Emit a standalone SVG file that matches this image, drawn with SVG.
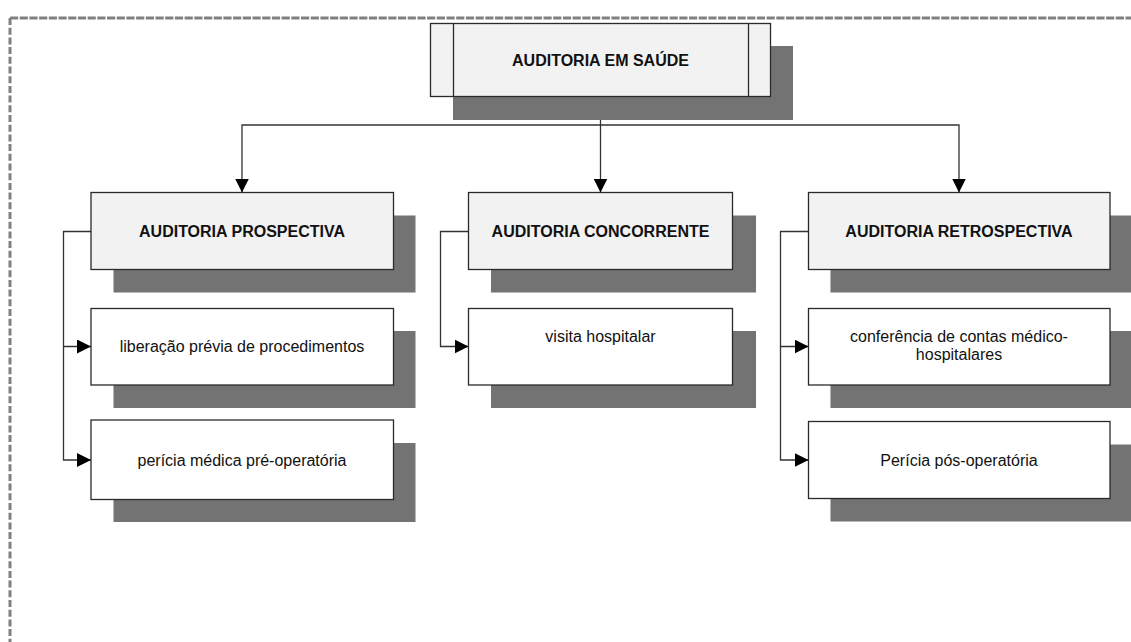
<svg xmlns="http://www.w3.org/2000/svg" width="1131" height="642" viewBox="0 0 1131 642">
<style>
.shadow{fill:#737373;stroke:none}
.box{stroke:#2a2a2a;stroke-width:1.3}
.l2{fill:#f2f2f2}
.l3{fill:#ffffff}
.t{font-family:"Liberation Sans",Arial,sans-serif;font-size:16px;fill:#111;text-anchor:middle}
.b{font-weight:bold}
.conn{fill:none;stroke:#333;stroke-width:1.3}
.frame{stroke:#808080;stroke-width:3;fill:none}
</style>
<defs>
<marker id="arr" markerWidth="14" markerHeight="14" refX="14" refY="7" orient="auto" markerUnits="userSpaceOnUse">
<path d="M0,0 L14,7 L0,14 Z" fill="#000"/>
</marker>
</defs>
<rect width="1131" height="642" fill="#fff"/>
<g id="frame">
<line class="frame" x1="10" y1="18" x2="1131" y2="18" stroke-dasharray="8.2,1.5"/>
<line class="frame" x1="10" y1="18" x2="10" y2="642" stroke-dasharray="7,2.7"/>
</g>
<g id="connectors">
<path class="conn" d="M600.5,96.5 V192.5" marker-end="url(#arr)"/>
<path class="conn" d="M600.5,125 H242 V192.5" marker-end="url(#arr)"/>
<path class="conn" d="M600.5,125 H959 V192.5" marker-end="url(#arr)"/>
<path class="conn" d="M91,231.5 H63.5 V346.5 H91" marker-end="url(#arr)"/>
<path class="conn" d="M63.5,346.5 V460 H91" marker-end="url(#arr)"/>
<path class="conn" d="M468.5,231.5 H440.5 V346.5 H468.5" marker-end="url(#arr)"/>
<path class="conn" d="M808.5,231.5 H780.5 V346.5 H808.5" marker-end="url(#arr)"/>
<path class="conn" d="M780.5,346.5 V460 H808.5" marker-end="url(#arr)"/>
</g>
<g id="n-auditoria-saude">
<rect class="shadow" x="453" y="46" width="340" height="74"/>
<rect class="box l2" x="430.5" y="23.5" width="340" height="73"/>
<line class="box" x1="453.5" y1="23.5" x2="453.5" y2="96.5"/>
<line class="box" x1="748.5" y1="23.5" x2="748.5" y2="96.5"/>
<text class="t b" x="600.5" y="65.5">AUDITORIA EM SAÚDE</text>
</g>
<g id="n-prospectiva">
<rect class="shadow" x="113.5" y="215.5" width="302" height="77"/>
<rect class="box l2" x="91" y="192.5" width="302.5" height="77"/>
<text class="t b" x="242" y="236.5">AUDITORIA PROSPECTIVA</text>
</g>
<g id="n-concorrente">
<rect class="shadow" x="491" y="215.5" width="265" height="77"/>
<rect class="box l2" x="468.5" y="192.5" width="264" height="77"/>
<text class="t b" x="600.5" y="236.5">AUDITORIA CONCORRENTE</text>
</g>
<g id="n-retrospectiva">
<rect class="shadow" x="830.5" y="215.5" width="302" height="77"/>
<rect class="box l2" x="808.5" y="192.5" width="301.5" height="77"/>
<text class="t b" x="959" y="236.5">AUDITORIA RETROSPECTIVA</text>
</g>
<g id="n-liberacao">
<rect class="shadow" x="113.5" y="331" width="302" height="77"/>
<rect class="box l3" x="91" y="308.5" width="302.5" height="76.5"/>
<text class="t" x="242" y="352">liberação prévia de procedimentos</text>
</g>
<g id="n-pericia-medica">
<rect class="shadow" x="113.5" y="443" width="302" height="79"/>
<rect class="box l3" x="91" y="420" width="302.5" height="79.5"/>
<text class="t" x="242" y="465.5">perícia médica pré-operatória</text>
</g>
<g id="n-visita">
<rect class="shadow" x="491" y="331" width="265" height="77"/>
<rect class="box l3" x="468.5" y="308.5" width="264" height="76.5"/>
<text class="t" x="600.5" y="342">visita hospitalar</text>
</g>
<g id="n-conferencia">
<rect class="shadow" x="830.5" y="331" width="302" height="77"/>
<rect class="box l3" x="808.5" y="308.5" width="301.5" height="76.5"/>
<text class="t" x="959" y="342">conferência de contas médico-</text>
<text class="t" x="959" y="360">hospitalares</text>
</g>
<g id="n-pericia-pos">
<rect class="shadow" x="830.5" y="444.5" width="302" height="77"/>
<rect class="box l3" x="808.5" y="421.5" width="301.5" height="77"/>
<text class="t" x="959" y="465.5">Perícia pós-operatória</text>
</g>
</svg>
